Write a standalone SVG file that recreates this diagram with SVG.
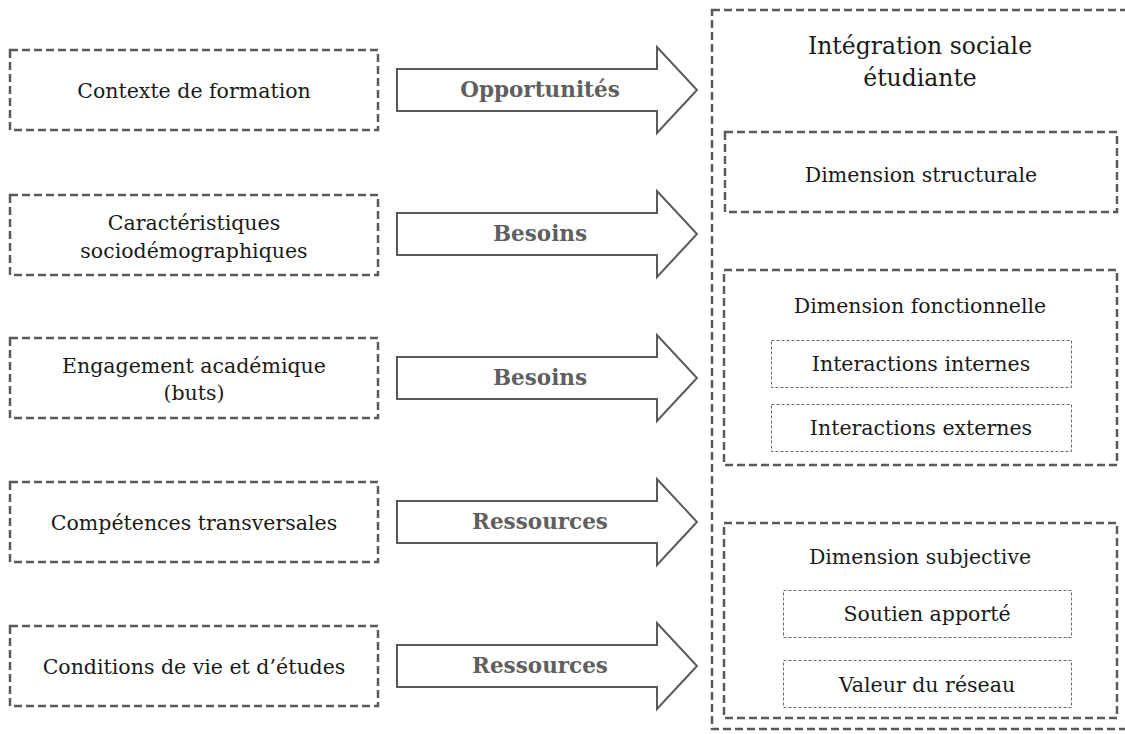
<svg xmlns="http://www.w3.org/2000/svg" width="1125" height="734" viewBox="0 0 1125 734">
<style>
.box{fill:none;stroke:#5a5a5a;stroke-width:2.5;stroke-dasharray:8 4}
.ibox{fill:none;stroke:#6a6a6a;stroke-width:1;stroke-dasharray:3 2}
.t{font-family:"DejaVu Serif","Liberation Serif",serif;font-size:20.5px;fill:#1a1a1a;text-anchor:middle}
.title{font-size:23.5px}
.arr{fill:#fff;stroke:#595959;stroke-width:2;stroke-linejoin:miter}
.al{font-family:"DejaVu Serif","Liberation Serif",serif;font-size:21.5px;font-weight:bold;fill:#5f5f5f;text-anchor:middle}
</style>
<rect width="1125" height="734" fill="#fff"/>
<g id="ctx"><rect class="box" x="10" y="50" width="368" height="80"/><text class="t" x="194" y="98">Contexte de formation</text></g>
<g id="socio"><rect class="box" x="10" y="195" width="368" height="80"/><text class="t" x="194" y="230">Caractéristiques</text><text class="t" x="194" y="258">sociodémographiques</text></g>
<g id="engage"><rect class="box" x="10" y="338" width="368" height="80"/><text class="t" x="194" y="373">Engagement académique</text><text class="t" x="194" y="400">(buts)</text></g>
<g id="comp"><rect class="box" x="10" y="482" width="368" height="80"/><text class="t" x="194" y="530">Compétences transversales</text></g>
<g id="cond"><rect class="box" x="10" y="626" width="368" height="80"/><text class="t" x="194" y="674">Conditions de vie et d’études</text></g>
<g id="connectors">
<path class="arr" d="M397 69 H657 V47 L697 90 L657 133 V111 H397 Z"/><text class="al" x="540" y="97">Opportunités</text>
<path class="arr" d="M397 213 H657 V191 L697 234 L657 277 V255 H397 Z"/><text class="al" x="540" y="241">Besoins</text>
<path class="arr" d="M397 357 H657 V335 L697 378 L657 421 V399 H397 Z"/><text class="al" x="540" y="385">Besoins</text>
<path class="arr" d="M397 501 H657 V479 L697 522 L657 565 V543 H397 Z"/><text class="al" x="540" y="529">Ressources</text>
<path class="arr" d="M397 645 H657 V623 L697 666 L657 709 V687 H397 Z"/><text class="al" x="540" y="673">Ressources</text>
</g>
<g id="integration"><rect class="box" x="712" y="10" width="430" height="719"/><text class="t title" x="920" y="54">Intégration sociale</text><text class="t title" x="920" y="86">étudiante</text></g>
<g id="structurale"><rect class="box" x="725" y="132" width="392" height="80"/><text class="t" x="921" y="182">Dimension structurale</text></g>
<g id="fonctionnelle"><rect class="box" x="724" y="270" width="393" height="195"/><text class="t" x="920" y="313">Dimension fonctionnelle</text>
<g id="internes"><rect class="ibox" x="771.5" y="340.5" width="300" height="47"/><text class="t" x="921" y="371">Interactions internes</text></g>
<g id="externes"><rect class="ibox" x="771.5" y="404.5" width="300" height="47"/><text class="t" x="921" y="435">Interactions externes</text></g></g>
<g id="subjective"><rect class="box" x="724" y="523" width="393" height="195"/><text class="t" x="920" y="564">Dimension subjective</text>
<g id="soutien"><rect class="ibox" x="783.5" y="590.5" width="288" height="47"/><text class="t" x="927" y="621">Soutien apporté</text></g>
<g id="valeur"><rect class="ibox" x="783.5" y="660.5" width="288" height="47"/><text class="t" x="927" y="692">Valeur du réseau</text></g></g>
</svg>
